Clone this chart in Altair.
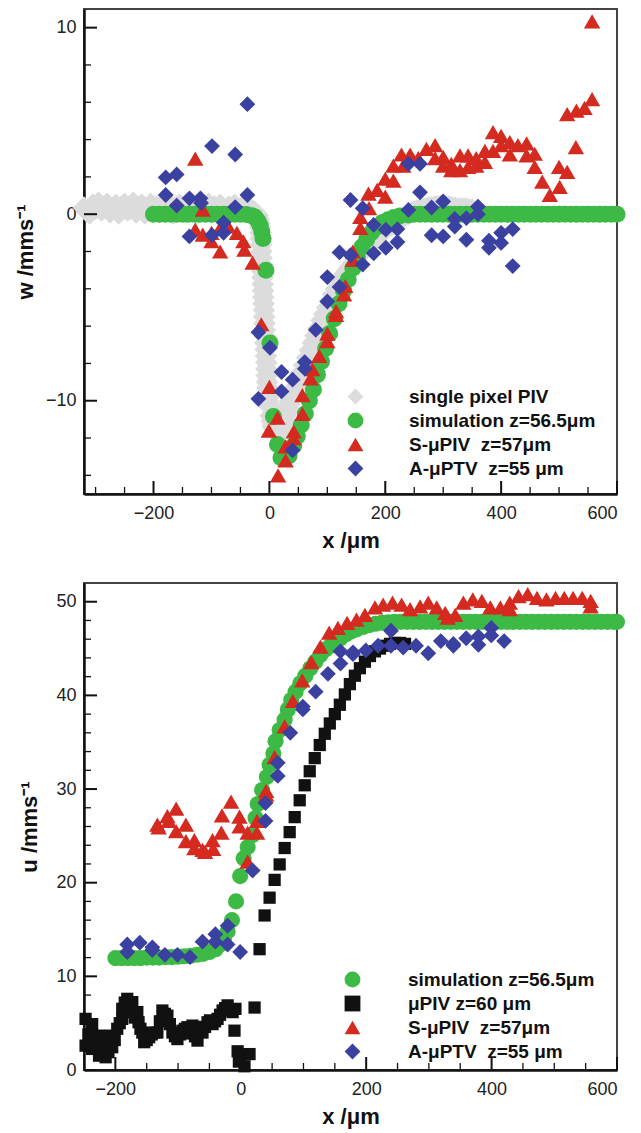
import altair as alt
import pandas as pd

FONT = "Liberation Sans"

# ---------------- TOP PANEL (w) ----------------
GREY_X = [-320, -315, -310, -305, -300, -295, -290, -285, -280, -275, -270, -265, -260, -255, -250,
          -245, -240, -235, -230, -225, -220, -215, -210, -205, -200, -195, -190, -185, -180, -175,
          -170, -165, -160, -155, -150, -145, -140, -135, -130, -125, -120, -115, -110, -105, -100,
          -95, -90, -85, -80, -75, -70, -65, -60, -55, -50, -45, -40, -35, -30, -25, -22, -20,
          -18, -17, -16, -15.5, -15, -14.5, -14, -13.5, -13, -12.5, -12, -11.5, -11, -10.5, -10, -9.5,
          -9, -8.5, -8, -7.5, -7, -6.5, -6, -5.5, -5, -4.5, -4, -3.5, -3, -2.5, -2, -1, 0,
          2, 4, 6, 8, 10, 12, 14, 16, 18, 20, 22, 24, 26, 28, 30, 32, 34, 36, 38, 40,
          45, 50, 55, 60, 65, 70, 75, 80, 85, 90, 95, 100, 105, 110, 115,
          120, 125, 130, 135, 140, 145, 150, 155, 160, 165, 170, 175, 180, 185, 190, 195, 200, 210, 220,
          230, 240, 245, 250, 255, 260, 265, 270, 275, 280, 285, 290, 295, 300, 305, 310, 315, 320,
          325, 330, 335, 340, 345, 350]
GREY_Y = [0.35, 0.15, 0.05, 0.5, 0.3, 0.6, 0.2, 0.4, 0.55, 0.1, 0.3, 0.5, 0.05, 0.35, 0.55,
          0.2, 0.3, 0.6, 0.1, 0.4, 0.5, 0.05, 0.3, 0.55, 0.2, 0.4, 0.1, 0.5, 0.3, 0.6,
          0.2, 0.05, 0.4, 0.5, 0.3, 0.1, 0.55, 0.3, 0.4, 0.05, 0.5, 0.2, 0.35, 0.55, 0.1,
          0.4, 0.3, 0.5, 0.2, 0.05, 0.4, 0.3, 0.5, 0.15, 0.3, 0.4, 0.2, 0.3, 0.2, 0.1, 0.0, -0.1,
          -0.3, -0.5, -0.7, -1.0, -1.3, -1.65, -2.0, -2.35, -2.7, -3.05, -3.4, -3.75, -4.1, -4.45, -4.8,
          -5.15, -5.5, -5.85, -6.2, -6.55, -6.9, -7.25, -7.6, -7.95, -8.3, -8.65, -9.0, -9.3, -9.6,
          -9.85, -10.05, -10.2, -10.3,
          -10.8, -11.1, -11.35, -11.5, -11.6, -11.7, -11.75, -11.8, -11.75, -11.6, -11.4, -11.2, -11.0,
          -10.8, -10.6, -10.4, -10.2, -10.0, -9.85, -9.7,
          -9.3, -8.9, -8.5, -8.1, -7.7, -7.3, -6.9, -6.5, -6.1, -5.7, -5.35, -5.0, -4.65, -4.3, -4.0,
          -3.7, -3.45, -3.2, -3.0, -2.8, -2.6, -2.4, -2.2, -2.0, -1.85, -1.7, -1.55, -1.4, -1.25, -1.1,
          -0.95, -0.85, -0.6, -0.4,
          -0.2, 0.0, 0.08, 0.15, 0.2, 0.25, 0.3, 0.3, 0.35, 0.35, 0.4, 0.4, 0.45, 0.4, 0.4, 0.4,
          0.35, 0.35, 0.3, 0.3, 0.3, 0.3, 0.25, 0.25]

SIMW_X = [-200, -190, -180, -170, -160, -150, -140, -130, -120, -110, -100, -90, -80, -70, -60, -50, -40,
          -30, -25, -20, -16, -13, -11, -6, 1, 7, 14, 20, 27, 34, 42, 48, 55, 62, 69, 76, 83,
          90, 97, 104, 112, 120, 128, 136, 144, 152, 160, 168, 176, 185, 195, 205, 215, 225, 240,
          250, 260, 270, 280, 290, 300, 310, 320, 330, 340, 350, 360, 370, 380, 390, 400, 410, 420,
          430, 440, 450, 460, 470, 480, 490, 500, 510, 520, 530, 540, 550, 560, 570, 580, 590, 600]
SIMW_Y = [0.0, 0.0, 0.0, 0.0, 0.0, 0.0, 0.0, 0.0, 0.0, 0.0, 0.0, 0.0, 0.0, 0.0, 0.0, 0.0, -0.02,
          -0.08, -0.15, -0.35, -0.6, -0.95, -1.3, -3.0, -6.9, -10.85, -12.35, -13.05, -13.1, -12.95, -12.4,
          -11.9, -11.3, -10.7, -10.0, -9.4, -8.6,
          -7.9, -7.2, -6.4, -5.6, -4.8, -4.1, -3.5, -2.9, -2.3, -1.75, -1.35, -1.0, -0.7, -0.45, -0.3,
          -0.18, -0.1, -0.04,
          0.0, 0.0, 0.0, 0.0, 0.0, 0.0, 0.0, 0.0, 0.0, 0.0, 0.0, 0.0, 0.0, 0.0, 0.0, 0.0, 0.0, 0.0,
          0.0, 0.0, 0.0, 0.0, 0.0, 0.0, 0.0, 0.0, 0.0, 0.0, 0.0, 0.0, 0.0, 0.0, 0.0, 0.0, 0.0, 0.0]

SPIVW_X = [-128, -115, -128, -115, -100, -100, -85, -85, -71, -56, -45, -43, -29, -14, 0, 14, -1,
           28, 28, 15, 42, 42, 57, 57, 71, 74, 86, 100, 100, 115, 115, 129, 131, 144, 144, 157, 157,
           172, 171, 186, 200, 200, 214, 214, 228, 231, 243, 257, 271, 286, 286, 300, 300, 314, 314,
           329, 329, 343, 343, 357, 357, 372, 372, 386, 386, 400, 400, 415, 415, 429, 444, 444,
           458, 458, 471, 484, 501, 500, 514, 529, 514, 530, 544, 557, 557]
SPIVW_Y = [2.98, 0.25, -0.83, -1.1, -1.0, -1.45, -2.0, -0.74, -0.66, -1.0, -1.45, -1.9, -2.6, -5.9,
           -9.26, -10.9, -11.6, -12.45, -13.2, -14.0, -11.65, -12.0, -10.7, -9.7, -8.8, -8.3, -7.6,
           -6.8, -6.4, -5.4, -5.2, -4.3, -3.85, -2.45, -2.0, -0.74, -0.15,
           0.32, 1.1, 1.3, 0.94, 1.9, 1.8, 2.6, 3.2, 2.6, 3.2, 3.0, 3.5, 3.7, 3.0, 3.07, 2.6, 2.7, 2.36,
           3.15, 2.36, 3.15, 2.54, 3.0, 2.6, 3.4, 2.8, 4.4, 3.4, 4.2, 3.7, 3.87, 3.2, 3.7, 3.8, 3.15,
           3.24, 2.54, 1.74, 1.03, 1.47, 2.54, 2.27, 3.6, 5.37, 5.55, 5.7, 6.17, 10.34]

APTVW_X = [-179, -179, -160, -160, -138, -138, -119, -118, -99, -99, -79, -79, -59, -59, -38, -38,
           -19, 1, -19, 21, 21, 40, 40, 61, 61, 80, 100, 100, 121, 121, 140, 161, 180, 180, 161, 140,
           201, 201, 221, 221, 240, 260, 240, 260, 280, 280, 300, 300, 320, 320, 340, 340, 360, 360,
           379, 379, 400, 400, 420, 420]
APTVW_Y = [1.97, 1.03, 2.13, 0.46, 0.85, -1.19, 0.85, 0.6, 3.65, -1.12, -0.45, -1.0, 3.2, 0.38, 5.9, 1.03,
           -6.33, -7.16, -9.9, -8.46, -9.5, -8.87, -12.66, -7.93, -8.28, -6.2, -4.68, -3.37, -3.9, -2.05,
           -2.2, -2.7, -0.57, -2.1, 0.32, 0.76,
           -0.83, -1.8, -0.8, -1.49, 2.7, 2.7, 0.23, 1.17, 0.36, -1.13, 0.68, -1.19, -0.25, -0.66,
           -0.21, -1.37, 0.41, 0.0, -1.42, -1.8, -1.0, -1.54, -0.8, -2.78]

# ---------------- BOTTOM PANEL (u) ----------------
SIMU_X = [-200, -190, -180, -170, -160, -150, -140, -130, -120, -110, -100, -90, -80, -70, -60, -50, -40,
          -33, -27, -21, -14, -7.5, -1, 4.5, 11, 19, 23.5, 27, 34, 41.6, 46, 52, 55.5, 62, 70, 75, 80.5,
          87.5, 95, 103, 111, 119, 127, 135, 143, 151, 159, 167, 175, 185, 195, 205, 215, 225, 235,
          245, 255, 265, 275, 285, 295, 305, 315, 325, 335, 345, 355, 365, 375, 385, 395, 405, 415,
          425, 435, 445, 455, 465, 475, 485, 495, 505, 515, 525, 535, 545, 555, 565, 575, 585, 595, 600]
SIMU_Y = [11.95, 11.95, 11.95, 11.95, 11.95, 12.0, 12.0, 12.0, 12.05, 12.05, 12.1, 12.15, 12.2, 12.3,
          12.4, 12.6, 12.9,
          13.4, 14.0, 14.8, 16.0, 18.0, 20.7, 22.6, 23.8, 25.1, 26.9, 28.4, 29.9, 31.3, 32.6, 33.8, 35.1,
          36.3, 37.4, 38.5, 39.5,
          40.4, 41.3, 42.1, 42.9, 43.6, 44.3, 44.9, 45.3, 45.7, 46.1, 46.5, 46.8, 47.05, 47.3, 47.5,
          47.65, 47.75, 47.8,
          47.85, 47.85, 47.85, 47.85, 47.85, 47.85, 47.85, 47.85, 47.85, 47.85, 47.85, 47.85, 47.85,
          47.85, 47.85, 47.85, 47.85, 47.85, 47.85, 47.85, 47.85, 47.85, 47.85, 47.85, 47.85, 47.85,
          47.85, 47.85, 47.85, 47.85, 47.85, 47.85, 47.85, 47.85, 47.85, 47.85, 47.85]

MPIV_X = [-247.5, -247.5, -243, -237, -237, -232, -226, -226, -222, -218, -215.5, -211, -207.5, -205,
          -201, -197, -193, -189, -189, -185, -181, -177, -173, -173, -169, -165, -163, -160, -157,
          -154, -150, -146, -142, -138, -133, -129, -125, -121, -117, -113, -109, -105, -101, -97,
          -93, -89, -85, -81, -77, -73, -69, -69, -65, -61, -57, -53, -49, -45, -41, -37, -33, -29,
          -25, -21, -17, -13, -10, -8.5, -5, -3, -2, 6, 14, 22,
          30, 38, 46, 54, 62, 70, 78, 86, 94, 102, 110, 118, 126, 134, 142, 150, 158, 166, 174, 182,
          190, 198, 206, 214, 222, 230, 238, 246, 254, 262]
MPIV_Y = [5.46, 2.6, 3.8, 4.9, 2.25, 3.0, 3.67, 1.53, 2.0, 2.6, 1.36, 1.9, 3.67, 2.43,
          3.2, 4.4, 5.0, 6.53, 5.46, 7.2, 7.6, 6.8, 7.25, 6.18, 5.6, 6.18, 5.1, 4.4, 4.0,
          2.97, 3.2, 3.5, 3.8, 4.0, 4.0, 5.2, 6.35, 6.0, 5.8, 4.9, 4.0, 3.6, 3.3, 3.8,
          4.2, 4.4, 4.57, 3.9, 4.74, 3.6, 3.14, 4.57, 4.3, 4.0, 4.6, 5.1, 5.3, 4.9, 5.2, 5.46, 5.9, 6.35,
          6.6, 6.9, 6.5, 6.18, 4.2, 6.53, 2.0, 0.9, 1.6, 0.4, 1.7, 6.67,
          12.9, 16.5, 18.4, 20.3, 21.95, 23.7, 25.4, 27.0, 28.8, 30.4, 31.9, 33.3, 34.7, 35.9, 37.0,
          38.0, 39.0, 40.1, 41.2, 42.1,
          42.9, 43.6, 44.2, 44.7, 45.0, 45.3, 45.5, 45.6, 45.6, 45.5]

SPIVU_X = [-133, -131, -117, -115, -103, -103, -87.5, -87.5, -74, -74, -61, -57, -45, -44, -30, -31,
           -15.5, -2, -2, 11, 11, 26, 26, 40.5, 40.5, 54, 70, 83, 98, 112.5, 127, 141, 155, 169.6,
           184.5, 198, 214, 227, 242, 256.5, 270, 286, 299, 312.5, 326, 330, 342, 355, 370, 384.5,
           398, 414, 429, 429, 443, 457.6, 472.5, 487.5, 502, 516, 530, 544.5, 558, 558]
SPIVU_Y = [26.2, 25.9, 27.1, 26.6, 27.9, 25.5, 26.2, 24.45, 24.55, 23.7, 23.5, 23.3, 24.55, 23.6, 27.2,
           25.35, 28.66, 27.05, 26.0, 25.35, 22.25, 26.6, 25.35, 29.8, 29.4, 33.4, 36.7, 39.4, 41.6,
           43.55, 45.2, 46.7, 47.2, 47.75, 48.1, 48.6, 49.4, 49.7, 49.9, 49.7, 49.2, 49.5, 49.9, 49.4,
           48.8, 48.3, 48.6, 49.9, 50.25, 50.1, 49.4, 49.4, 49.9, 49.2, 50.6, 50.8, 50.4, 50.25, 50.4,
           50.4, 50.4, 50.4, 50.1, 49.5]

APTVU_X = [-181, -181, -161, -141, -141, -121, -101, -81, -61, -40.5, -40.5, -21, -21, -1, 19, 39.5,
           39.5, 59, 59, 79, 99, 99, 119.5, 139, 159, 159, 179, 179, 199.5, 219, 239.5, 239.5, 259,
           279.5, 299, 319, 339, 339, 359.5, 379, 379, 399.5, 399.5, 420]
APTVU_Y = [13.4, 12.6, 13.6, 13.1, 12.8, 12.3, 12.3, 12.05, 13.7, 14.5, 13.7, 15.4, 13.4, 12.6, 21.3,
           28.5, 26.6, 31.4, 32.8, 36.0, 38.5, 38.8, 40.4, 42.3, 43.4, 44.7, 44.6, 44.4, 44.8, 45.3,
           46.9, 45.3, 45.1, 45.3, 44.5, 45.8, 45.5, 45.3, 46.1, 46.3, 45.4, 47.2, 46.4, 45.8]

# tick positions / labels
TOP_X_LABELS = [-200, 0, 200, 400, 600]
TOP_X_MINOR = [-300, -250, -150, -100, -50, 50, 100, 150, 250, 300, 350, 450, 500, 550]
TOP_Y_LABELS = [-10, 0, 10]
TOP_Y_MINOR = [-14, -12, -8, -6, -4, -2, 2, 4, 6, 8]
BOT_X_LABELS = [-200, 0, 200, 400, 600]
BOT_X_MINOR = [-150, -100, -50, 50, 100, 150, 250, 300, 350, 450, 500, 550]
BOT_Y_LABELS = [0, 10, 20, 30, 40, 50]
BOT_Y_MINOR = [2, 4, 6, 8, 12, 14, 16, 18, 22, 24, 26, 28, 32, 34, 36, 38, 42, 44, 46, 48]

GREEN = "#3dba45"
RED = "#d42a1f"
BLUE = "#3a41a0"
GREY = "#dcdcdc"
BLACK = "#111111"

L_PIX = "single pixel PIV"
L_SIM = "simulation z=56.5μm"
L_MPIV = "μPIV z=60 μm"
L_SPIV = "S-μPIV\u00a0 z=57μm"
L_APTV = "A-μPTV\u00a0 z=55 μm"


def frame(xs, ys, name, size):
    return pd.DataFrame({"x": xs, "y": ys, "series": name, "sz": size})


def panel(frames, names, colors, shapes, xdom, ydom, xlab, xminor, ylab, yminor,
          ytitle, W, H, legx, legy, ytitlepad, laboff):
    data = pd.concat(frames, ignore_index=True)
    data["k"] = range(len(data))
    xs = alt.Scale(domain=xdom, nice=False, zero=False)
    ys = alt.Scale(domain=ydom, nice=False, zero=False)
    xaxis = alt.Axis(values=xlab, title="x /μm", grid=False, ticks=False, labelPadding=10,
                     titlePadding=8, format="d")
    yaxis = alt.Axis(values=ylab, title=ytitle, grid=False, ticks=False, labelPadding=8,
                     titlePadding=ytitlepad, format="d")
    leg = alt.Legend(title=None, orient="none", legendX=legx, legendY=legy, symbolSize=250,
                     labelFont=FONT, labelFontSize=19, labelFontWeight="bold", labelColor="#111",
                     labelOffset=laboff, rowPadding=4, symbolStrokeWidth=0, padding=0,
                     symbolOpacity=1, labelLimit=400)
    pts = alt.Chart(data).mark_point(filled=True, opacity=1, strokeWidth=0).encode(
        x=alt.X("x:Q", scale=xs, axis=xaxis),
        y=alt.Y("y:Q", scale=ys, axis=yaxis),
        color=alt.Color("series:N", scale=alt.Scale(domain=names, range=colors), legend=leg),
        shape=alt.Shape("series:N", scale=alt.Scale(domain=names, range=shapes), legend=leg),
        size=alt.Size("sz:Q", scale=None),
        order=alt.Order("k:Q"),
    )

    def xt(vals, length, w):
        return alt.Chart(pd.DataFrame({"x": vals})).mark_rule(color="#111", strokeWidth=w).encode(
            x=alt.X("x:Q", scale=xs, axis=xaxis), y=alt.value(H), y2=alt.value(H - length))

    def yt(vals, length, w):
        return alt.Chart(pd.DataFrame({"y": vals})).mark_rule(color="#111", strokeWidth=w).encode(
            y=alt.Y("y:Q", scale=ys, axis=yaxis), x=alt.value(0), x2=alt.value(length))

    return alt.layer(pts, xt(xlab, 13, 2), xt(xminor, 7, 1.3), yt(ylab, 13, 2), yt(yminor, 7, 1.3)
                     ).properties(width=W, height=H)


top = panel(
    [frame(GREY_X, GREY_Y, L_PIX, 520), frame(SIMW_X, SIMW_Y, L_SIM, 290),
     frame(SPIVW_X, SPIVW_Y, L_SPIV, 270), frame(APTVW_X, APTVW_Y, L_APTV, 250)],
    [L_PIX, L_SIM, L_SPIV, L_APTV], [GREY, GREEN, RED, BLUE],
    ["diamond", "circle", "triangle-up", "diamond"],
    [-320, 600], [-15, 11], TOP_X_LABELS, TOP_X_MINOR, TOP_Y_LABELS, TOP_Y_MINOR,
    "w /mms⁻¹", 533, 485, 262, 378, 8, 44)

bottom = panel(
    [frame(SIMU_X, SIMU_Y, L_SIM, 260), frame(MPIV_X, MPIV_Y, L_MPIV, 150),
     frame(SPIVU_X, SPIVU_Y, L_SPIV, 270), frame(APTVU_X, APTVU_Y, L_APTV, 250)],
    [L_SIM, L_MPIV, L_SPIV, L_APTV], [GREEN, BLACK, RED, BLUE],
    ["circle", "square", "triangle-up", "diamond"],
    [-250, 600], [0, 52], BOT_X_LABELS, BOT_X_MINOR, BOT_Y_LABELS, BOT_Y_MINOR,
    "u /mms⁻¹", 533, 487, 259, 387, 14, 46)

chart = alt.vconcat(top, bottom, spacing=30).resolve_scale(
    x="independent", y="independent", color="independent", shape="independent"
).resolve_legend(color="independent", shape="independent").properties(
    padding={"left": 5, "top": 0, "right": 5, "bottom": 5}, background="white"
).configure_view(stroke="#444", strokeWidth=2).configure_axis(
    labelFont=FONT, labelFontSize=18, labelColor="#222", titleFont=FONT, titleFontSize=22,
    titleFontWeight="bold", titleColor="#111", domainColor="#111", domainWidth=2.5
)

chart.save("out.html", embed_options={"renderer": "svg", "actions": False})
